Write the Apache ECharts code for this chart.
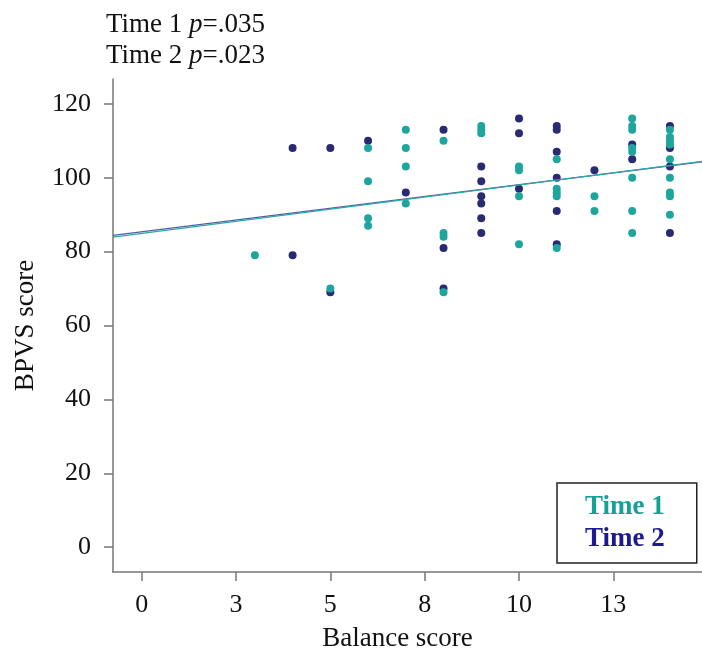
<!DOCTYPE html>
<html>
<head>
<meta charset="utf-8">
<script src="https://cdn.jsdelivr.net/npm/echarts@6/dist/echarts.min.js"></script>
<style type="text/css">
html,body{margin:0;padding:0;background:#fff;}
#chart{width:702px;height:657px;}
</style>
</head>
<body>
<div id="chart"></div>
<script type="text/javascript">
// Time 1 points [balance, bpvs]
var time1Points = [
  [3,79],
  [5,70],
  [6,108],[6,99],[6,89],[6,87],
  [7,113],[7,108],[7,103],[7,93],
  [8,110],[8,85],[8,84],[8,69],
  [9,114],[9,113],[9,112],
  [10,103],[10,102],[10,95],[10,82],
  [11,105],[11,97],[11,96],[11,95],[11,81],
  [12,95],[12,91],
  [13,116],[13,114],[13,113],[13,108],[13,107],[13,100],[13,91],[13,85],
  [14,113],[14,111],[14,110],[14,109],[14,105],[14,100],[14,96],[14,95],[14,90]
];
// Time 2 points
var time2Points = [
  [4,108],[4,79],
  [5,108],[5,69],
  [6,110],
  [7,96],
  [8,113],[8,81],[8,70],
  [9,103],[9,99],[9,95],[9,93],[9,89],[9,85],
  [10,116],[10,112],[10,97],
  [11,114],[11,113],[11,107],[11,100],[11,91],[11,82],
  [12,102],
  [13,109],[13,105],
  [14,114],[14,108],[14,103],[14,85]
];
// fit lines, ends read at the axis edges
var time1Fit = [[-0.76,83.9],[14.85,104.4]];
var time2Fit = [[-0.76,84.4],[14.85,104.3]];

var xTickValues = [0,2.5,5,7.5,10,12.5];
var xTickLabels = ['0','3','5','8','10','13'];
var yTickValues = [0,20,40,60,80,100,120];

var teal = '#1ea69e';
var navy = '#2a2a72';
var serif = '"Liberation Serif","DejaVu Serif",serif';

var myChart = echarts.init(document.getElementById('chart'));
myChart.setOption({
  animation:false,
  title:{
    left:106,
    top:9,
    padding:0,
    text:'{n|Time 1 }{i|p}{n|=.035}\n{n|Time 2 }{i|p}{n|=.023}',
    textStyle:{
      fontFamily:serif,
      fontSize:27,
      lineHeight:31,
      fontWeight:'normal',
      color:'#111',
      rich:{
        n:{fontFamily:serif,fontSize:27,lineHeight:31,color:'#111'},
        i:{fontFamily:serif,fontSize:27,lineHeight:31,color:'#111',fontStyle:'italic'}
      }
    }
  },
  legend:{
    orient:'vertical',
    left:557,
    top:483,
    padding:[9,32,9,23],
    itemGap:2,
    itemWidth:0,
    itemHeight:0,
    icon:'none',
    borderColor:'#222',
    borderWidth:1.5,
    selectedMode:false,
    textStyle:{fontFamily:serif,fontSize:27,fontWeight:'bold',lineHeight:30},
    data:[
      {name:'Time 1',textStyle:{color:'#17a098'}},
      {name:'Time 2',textStyle:{color:'#1c1a8e'}}
    ]
  },
  grid:{left:113,right:0,top:79,bottom:79},
  xAxis:{
    type:'value',
    min:-0.76,
    max:14.85,
    name:'Balance score',
    nameLocation:'middle',
    nameGap:53,
    nameTextStyle:{fontFamily:serif,fontSize:27,color:'#111',padding:[0,20,0,0]},
    splitLine:{show:false},
    axisLine:{onZero:false,lineStyle:{color:'#777',width:1.5}},
    axisTick:{length:9,lineStyle:{color:'#777',width:1.5},customValues:xTickValues},
    axisLabel:{
      customValues:xTickValues,
      margin:20,
      fontFamily:serif,
      fontSize:26,
      color:'#111',
      formatter:function(v){
        var i = xTickValues.indexOf(v);
        return i >= 0 ? xTickLabels[i] : '';
      }
    }
  },
  yAxis:{
    type:'value',
    min:-6.7,
    max:126.7,
    name:'BPVS score',
    nameLocation:'middle',
    nameGap:74,
    nameTextStyle:{fontFamily:serif,fontSize:27,color:'#111'},
    splitLine:{show:false},
    axisLine:{show:true,onZero:false,lineStyle:{color:'#777',width:1.5}},
    axisTick:{show:true,length:9,lineStyle:{color:'#777',width:1.5},customValues:yTickValues},
    axisLabel:{
      customValues:yTickValues,
      margin:22,
      fontFamily:serif,
      fontSize:26,
      color:'#111'
    }
  },
  series:[
    {
      name:'Time 2',
      type:'scatter',
      symbolSize:8,
      itemStyle:{color:navy,opacity:1},
      data:time2Points
    },
    {
      name:'Time 1',
      type:'scatter',
      symbolSize:8,
      itemStyle:{color:teal,opacity:1},
      data:time1Points
    },
    {
      name:'Time 2 fit',
      type:'line',
      symbol:'none',
      lineStyle:{color:'#5b5aa8',width:1.3},
      data:time2Fit
    },
    {
      name:'Time 1 fit',
      type:'line',
      symbol:'none',
      lineStyle:{color:'#2aaaa6',width:1.3},
      data:time1Fit
    }
  ]
});
</script>
</body>
</html>
